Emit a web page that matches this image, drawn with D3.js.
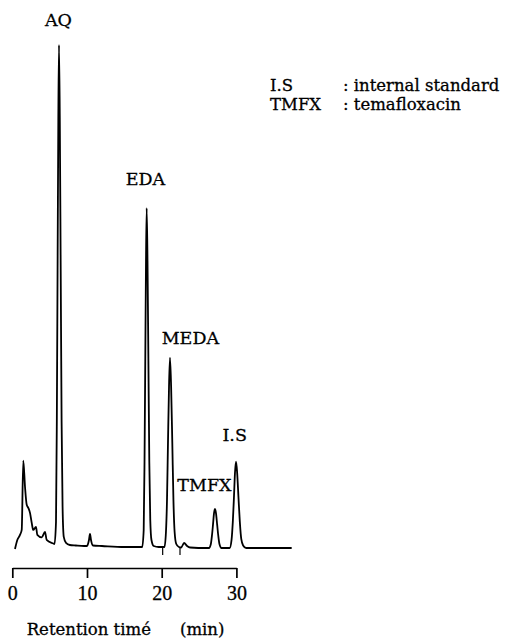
<!DOCTYPE html>
<html>
<head>
<meta charset="utf-8">
<script src="https://cdn.jsdelivr.net/npm/d3@7"></script>
<style>
  body { margin: 0; background: #fff; }
  svg { display: block; }
  text { fill: #000; stroke: #000; stroke-width: 0.3px; }
</style>
</head>
<body>
<script>
var WIDTH = 507,
	HEIGHT = 639

// chromatogram trace: time (min) and detector signal (AQ peak = 100)
var times = [
	0.36, 0.67, 1.03, 1.26, 1.47, 1.70, 1.93, 2.14, 2.37, 2.60, 2.80, 3.17, 3.35, 3.94, 4.38, 4.60, 5.49,
	5.65, 5.85, 5.96, 6.06, 6.16, 6.25, 6.36, 6.48, 6.60, 6.73, 6.89, 7.19, 7.70,
	8.5, 9.6, 10.0, 10.25, 10.4, 10.55, 10.8, 12.0, 15.0,
	17.39, 17.59, 17.70, 17.80, 17.90, 17.99, 18.10, 18.22, 18.34, 18.47, 18.63, 18.93, 19.6,
	20.37, 20.57, 20.71, 20.84, 20.98, 21.11, 21.26, 21.42, 21.57, 21.73, 21.95, 22.3,
	22.6, 23.0, 23.4, 23.8, 26.0,
	26.33, 26.58, 26.73, 26.87, 27.00, 27.13, 27.27, 27.42, 27.57, 27.73, 28.0, 28.7,
	29.10, 29.35, 29.52, 29.67, 29.81, 29.95, 30.10, 30.28, 30.46, 30.65, 30.90, 31.3, 34.0, 37.4
]
var signal = [
	-0.4, 1.4, 2.4, 3.4, 17.2, 12.0, 8.4, 7.8, 6.8, 4.8, 3.4, 4.0, 2.4, 1.9, 3.0, 1.4, 0.7,
	0.6, 5, 25, 55, 85, 100, 85, 55, 25, 8, 2, 0.8, 0.4,
	0.3, 0.2, 0.2, 1.3, 2.6, 1.3, 0.3, 0.2, 0.0,
	0.0, 3.4, 17, 37, 57, 67.5, 57, 37, 17, 5.4, 1.4, 0.2, 0.0,
	0.0, 3.0, 9.4, 20.7, 32, 37.7, 32, 20.7, 9.4, 3.0, 0.6, 0.0,
	-0.1, 0.8, 0.2, -0.1, -0.2,
	-0.2, 0.6, 2.3, 4.5, 6.7, 7.6, 6.7, 4.5, 2.3, 0.6, -0.2, -0.2,
	-0.2, 1.4, 5.0, 9.8, 14.8, 17.0, 14.8, 9.8, 5.0, 1.6, 0.3, -0.2, -0.2, -0.2
]

// integration marks under the baseline
var markTimes = [20.13, 22.45]

var peakNames = ['AQ', 'EDA', 'MEDA', 'TMFX', 'I.S']
var labelTimes = [6.18, 17.82, 23.84, 25.72, 29.77]
var labelLevels = [103.8, 72.1, 40.4, 11.2, 21.1]

var tickValues = [0, 10, 20, 30]

var legendKeys = ['I.S', 'TMFX']
var legendTexts = [': internal standard', ': temafloxacin']

var serif = "'DejaVu Serif', serif"

var svg = d3.select('body').append('svg')
	.attr('width', WIDTH)
	.attr('height', HEIGHT)

svg.append('rect')
	.attr('width', WIDTH)
	.attr('height', HEIGHT)
	.attr('fill', '#fff')

var xScale = d3.scaleLinear()
	.domain([0, 30])
	.range([12.3, 236.4])

var yScale = d3.scaleLinear()
	.domain([0, 100])
	.range([547, 45])

var trace = times.map(function(t, i){ return [t, signal[i]] })

var line = d3.line()
	.x(function(d){ return xScale(d[0]) })
	.y(function(d){ return yScale(d[1]) })
	.curve(d3.curveMonotoneX)

svg.append('path')
	.datum(trace)
	.attr('d', line)
	.attr('fill', 'none')
	.attr('stroke', '#000')
	.attr('stroke-width', 1.8)
	.attr('stroke-linejoin', 'round')

svg.selectAll('.mark').data(markTimes)
	.enter().append('line')
	.attr('class', 'mark')
	.attr('x1', function(d){ return xScale(d) })
	.attr('x2', function(d){ return xScale(d) })
	.attr('y1', yScale(0))
	.attr('y2', yScale(-1.6))
	.attr('stroke', '#000')
	.attr('stroke-width', 1.2)

// peak labels
svg.selectAll('.peak').data(peakNames)
	.enter().append('text')
	.attr('class', 'peak')
	.attr('x', function(d, i){ return xScale(labelTimes[i]) })
	.attr('y', function(d, i){ return yScale(labelLevels[i]) })
	.attr('text-anchor', 'middle')
	.style('font-family', serif)
	.style('font-size', '17.5px')
	.text(function(d){ return d })

// time axis
var xAxis = d3.axisBottom(xScale)
	.tickValues(tickValues)
	.tickSizeInner(10)
	.tickSizeOuter(0)
	.tickPadding(8)

var axisG = svg.append('g')
	.attr('transform', 'translate(0,568)')
	.call(xAxis)

axisG.select('.domain').attr('stroke-width', 1.7)
axisG.selectAll('.tick line').attr('stroke-width', 1.7)
axisG.selectAll('.tick text')
	.style('font-family', "'Liberation Serif', serif")
	.style('font-size', '20px')

svg.append('text')
	.attr('x', 26.7)
	.attr('y', 635)
	.style('font-family', serif)
	.style('font-size', '16.5px')
	.text('Retention timé')
svg.append('text')
	.attr('x', 180)
	.attr('y', 635)
	.style('font-family', serif)
	.style('font-size', '16.5px')
	.text('(min)')

// legend
var legend = svg.selectAll('.legend').data(legendKeys)
	.enter().append('g')
	.attr('class', 'legend')
	.attr('transform', function(d, i){ return 'translate(270,' + (90.5 + i * 19.5) + ')' })
legend.append('text')
	.style('font-family', serif)
	.style('font-size', '16.5px')
	.text(function(d){ return d })
legend.append('text')
	.attr('x', 73)
	.style('font-family', serif)
	.style('font-size', '16.5px')
	.text(function(d, i){ return legendTexts[i] })
</script>
</body>
</html>
